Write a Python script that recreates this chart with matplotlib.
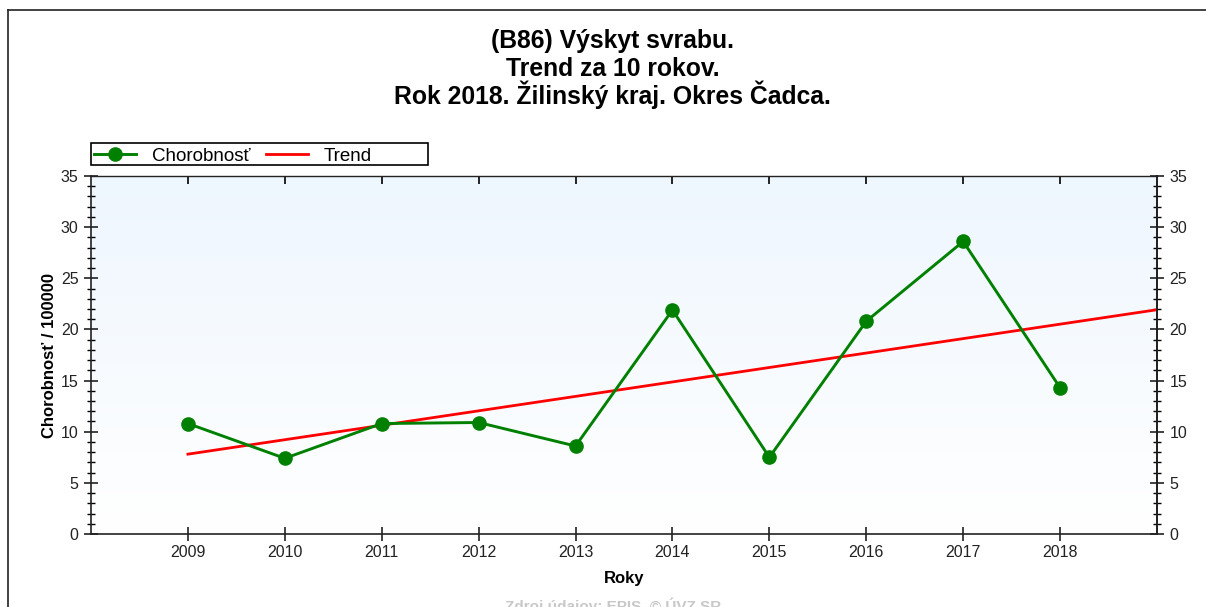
import numpy as np
import matplotlib
matplotlib.use("Agg")
import matplotlib.pyplot as plt
from matplotlib.lines import Line2D
from matplotlib.patches import Rectangle
from matplotlib.ticker import MultipleLocator
from matplotlib.colors import LinearSegmentedColormap

plt.rcParams['font.family'] = ['Liberation Sans', 'DejaVu Sans']

# ---- data ----
years = [2009, 2010, 2011, 2012, 2013, 2014, 2015, 2016, 2017, 2018]
chorobnost = [10.8, 7.4, 10.8, 10.9, 8.6, 21.9, 7.5, 20.8, 28.6, 14.3]
title_lines = ["(B86) Výskyt svrabu.", "Trend za 10 rokov.", "Rok 2018. Žilinský kraj. Okres Čadca."]
series_labels = ["Chorobnosť", "Trend"]
ylabel = "Chorobnosť / 100000"
xlabel = "Roky"
footer = "Zdroj údajov: EPIS, © ÚVZ SR"

W, H = 1206, 607
fig = plt.figure(figsize=(W / 100, H / 100), dpi=100)
fig.patch.set_facecolor('white')

def px(x0, y0, x1, y1):
    return [x0 / W, 1 - y1 / H, (x1 - x0) / W, (y1 - y0) / H]

ax = fig.add_axes(px(91, 176, 1157, 534))
ax.set_xlim(2008, 2019)
ax.set_ylim(0, 35)

# gradient background
grad = np.linspace(0, 1, 256).reshape(-1, 1)
cmap = LinearSegmentedColormap.from_list('bg', ['#FFFFFF', '#EEF6FE'])
ax.imshow(grad, extent=[0, 1, 0, 1], transform=ax.transAxes, cmap=cmap,
          aspect='auto', origin='lower', zorder=0)

# trend (linear regression)
coef = np.polyfit(years, chorobnost, 1)
tx = np.array([years[0], 2019])
ax.plot(tx, np.polyval(coef, tx), color='#FF0000', lw=2.0, zorder=2, label=series_labels[1])
ax.plot(years, chorobnost, color='#008000', lw=2.1, marker='o', markersize=9.5,
        zorder=3, label=series_labels[0])

for s in ax.spines.values():
    s.set_linewidth(1.2)
    s.set_color('#222222')
ax.spines['top'].set_linewidth(1.0)

ax.set_xticks(years)
ax.set_xticklabels([str(y) for y in years])
ax.yaxis.set_major_locator(MultipleLocator(5))
ax.yaxis.set_minor_locator(MultipleLocator(1))
ax.tick_params(axis='x', direction='inout', length=10, width=1.2, labelsize=11.5, pad=3, colors='#222222')
ax.tick_params(axis='y', which='major', direction='inout', length=10, width=1.2, labelsize=11.5, pad=4, colors='#222222')
ax.tick_params(axis='y', which='minor', direction='inout', length=6, width=1.0)

secx = ax.secondary_xaxis('top')
secx.set_xticks(years)
secx.tick_params(direction='in', length=6, width=1.2, labeltop=False)
secx.spines['top'].set_visible(False)

secy = ax.secondary_yaxis('right')
secy.yaxis.set_major_locator(MultipleLocator(5))
secy.yaxis.set_minor_locator(MultipleLocator(1))
secy.tick_params(which='major', direction='inout', length=10, width=1.2, labelsize=11.5, pad=4, colors='#222222')
secy.tick_params(which='minor', direction='inout', length=6, width=1.0)
secy.spines['right'].set_linewidth(1.2)

ax.set_xlabel(xlabel, fontsize=12, fontweight='bold', labelpad=8)
ax.set_ylabel(ylabel, fontsize=12, fontweight='bold', labelpad=3)

handles, labels = ax.get_legend_handles_labels()
leg = ax.legend(handles[::-1], labels[::-1], loc='lower left', bbox_to_anchor=(0.002, 1.028),
                ncol=2, frameon=False, fontsize=13.5, borderpad=0.05,
                handlelength=2.25, handletextpad=0.85, columnspacing=0.8, borderaxespad=0)
fig.add_artist(Rectangle((91 / W, 1 - 165 / H), (428 - 91) / W, 22 / H, transform=fig.transFigure,
                         fill=False, edgecolor='black', lw=1.2))

for i, ypix in enumerate([48, 76, 104]):
    fig.text(0.508, 1 - ypix / H, title_lines[i], ha='center', va='baseline', fontsize=17.8, fontweight='bold')

fig.text(0.508, 1 - 606 / H, footer, ha='center', va='center', fontsize=11, fontweight='bold', color='#C8C8C8')

# outer frame (left and top)
fig.add_artist(Line2D([8 / W, 8 / W], [0, 1 - 10 / H], transform=fig.transFigure, color='#222222', lw=1.2))
fig.add_artist(Line2D([8 / W, 1], [1 - 10 / H, 1 - 10 / H], transform=fig.transFigure, color='#222222', lw=1.2))

fig.savefig('out.png', dpi=100)
